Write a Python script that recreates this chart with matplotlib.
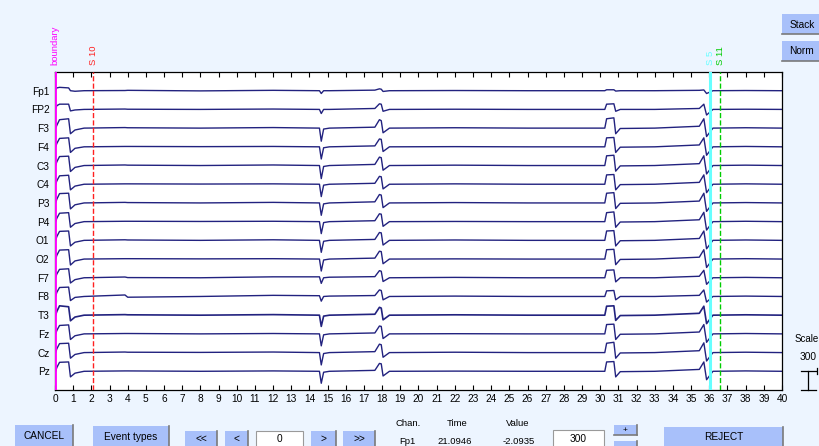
import numpy as np
import matplotlib
matplotlib.use('Agg')
import matplotlib.pyplot as plt
from matplotlib.patches import Rectangle
from matplotlib.lines import Line2D

plt.rcParams['font.family'] = ['Liberation Sans', 'DejaVu Sans']

# ---- data ----
chan_names = ['Fp1', 'FP2', 'F3', 'F4', 'C3', 'C4', 'P3', 'P4',
              'O1', 'O2', 'F7', 'F8', 'T3', 'Fz', 'Cz', 'Pz']

# key time points (s)
tk = [0, 0.1, 0.25, 0.75, 0.85, 1.1, 1.6, 3.85, 4.0, 8.0, 12.0,
      14.55, 14.65, 14.78, 15.1, 17.6, 17.85, 17.95, 18.05, 18.4,
      22.0, 26.0, 30.25, 30.35, 30.75, 30.85, 31.1, 33.0,
      35.45, 35.7, 35.85, 36.2, 38.0, 40.0]

# trace values at the key times (in channel spacing units)
fp1 = [0.0, 0.15, 0.18, 0.15, 0.0, -0.03, 0.0, 0.01, 0.02, -0.01, 0.02,
       0.0, -0.15, 0.0, 0.0, 0.03, 0.1, 0.08, -0.04, 0.0,
       0.01, 0.0, 0.0, 0.05, 0.05, -0.02, 0.0, 0.0,
       0.02, 0.04, -0.15, 0.0, 0.01, 0.0]
fp2 = [-0.05, 0.2, 0.28, 0.28, -0.08, -0.03, 0.0, 0.02, 0.01, 0.0, 0.02,
       0.0, -0.22, 0.0, 0.0, 0.05, 0.3, 0.28, -0.1, 0.0,
       0.01, 0.0, 0.0, 0.28, 0.3, -0.1, 0.0, 0.0,
       0.05, 0.28, -0.3, 0.0, 0.01, 0.0]
f3 = [-0.1, 0.15, 0.45, 0.5, -0.3, -0.1, 0.0, 0.03, 0.02, 0.0, 0.03,
      0.0, -0.7, -0.05, 0.0, 0.05, 0.45, 0.4, -0.25, 0.0,
      0.02, 0.0, 0.0, 0.5, 0.55, -0.3, -0.02, 0.0,
      0.1, 0.5, -0.45, 0.0, 0.02, 0.0]
f4 = [-0.1, 0.18, 0.45, 0.48, -0.3, -0.08, 0.0, 0.02, 0.02, 0.01, 0.02,
      0.0, -0.65, -0.05, 0.0, 0.05, 0.42, 0.4, -0.25, 0.0,
      0.01, 0.0, 0.0, 0.48, 0.5, -0.3, -0.02, 0.0,
      0.1, 0.48, -0.45, 0.0, 0.02, 0.0]
c3 = [-0.1, 0.2, 0.48, 0.5, -0.32, -0.1, 0.0, 0.03, 0.02, 0.0, 0.03,
      0.0, -0.7, -0.05, 0.0, 0.06, 0.45, 0.42, -0.25, 0.0,
      0.02, 0.0, 0.0, 0.52, 0.55, -0.3, -0.02, 0.0,
      0.1, 0.52, -0.45, 0.0, 0.02, 0.0]
c4 = [-0.1, 0.18, 0.45, 0.48, -0.3, -0.1, 0.0, 0.02, 0.02, 0.01, 0.02,
      0.0, -0.66, -0.05, 0.0, 0.05, 0.42, 0.4, -0.25, 0.0,
      0.02, 0.0, 0.0, 0.5, 0.52, -0.3, -0.02, 0.0,
      0.1, 0.5, -0.45, 0.0, 0.02, 0.0]
p3 = [-0.1, 0.2, 0.5, 0.52, -0.32, -0.1, 0.0, 0.03, 0.02, 0.0, 0.03,
      0.0, -0.66, -0.05, 0.0, 0.06, 0.45, 0.42, -0.25, 0.0,
      0.02, 0.0, 0.0, 0.52, 0.55, -0.3, -0.02, 0.0,
      0.1, 0.52, -0.45, 0.0, 0.02, 0.0]
p4 = [-0.1, 0.18, 0.45, 0.48, -0.3, -0.1, 0.0, 0.02, 0.02, 0.01, 0.02,
      0.0, -0.64, -0.05, 0.0, 0.05, 0.42, 0.4, -0.25, 0.0,
      0.01, 0.0, 0.0, 0.48, 0.52, -0.3, -0.02, 0.0,
      0.1, 0.5, -0.45, 0.0, 0.02, 0.0]
o1 = [-0.1, 0.2, 0.48, 0.5, -0.3, -0.1, 0.0, 0.03, 0.02, 0.0, 0.03,
      0.0, -0.64, -0.05, 0.0, 0.05, 0.42, 0.4, -0.25, 0.0,
      0.02, 0.0, 0.0, 0.5, 0.52, -0.3, -0.02, 0.0,
      0.1, 0.5, -0.45, 0.0, 0.02, 0.0]
o2 = [-0.1, 0.2, 0.48, 0.5, -0.32, -0.1, 0.0, 0.02, 0.02, 0.01, 0.02,
      0.0, -0.64, -0.05, 0.0, 0.05, 0.42, 0.4, -0.25, 0.0,
      0.01, 0.0, 0.0, 0.5, 0.52, -0.3, -0.02, 0.0,
      0.1, 0.5, -0.45, 0.0, 0.02, 0.0]
f7 = [-0.1, 0.2, 0.45, 0.48, -0.28, -0.1, 0.0, 0.04, 0.01, 0.0, 0.05,
      0.05, -0.3, 0.0, 0.03, 0.06, 0.38, 0.35, -0.2, 0.0,
      0.02, 0.0, 0.0, 0.4, 0.42, -0.22, 0.0, 0.0,
      0.08, 0.4, -0.35, 0.0, 0.02, 0.0]
f8 = [-0.1, 0.22, 0.48, 0.5, -0.22, -0.05, 0.0, 0.08, -0.04, 0.0, 0.06,
      0.04, -0.25, 0.0, 0.02, 0.05, 0.35, 0.32, -0.18, 0.0,
      0.02, 0.0, 0.0, 0.3, 0.32, -0.18, 0.0, 0.0,
      0.06, 0.35, -0.3, 0.0, 0.02, 0.0]
t3 = [-0.1, 0.2, 0.5, 0.45, -0.3, -0.1, 0.0, 0.03, 0.02, 0.0, 0.03,
      0.0, -0.6, -0.05, 0.0, 0.05, 0.42, 0.38, -0.25, 0.0,
      0.02, 0.0, 0.0, 0.48, 0.5, -0.28, -0.02, 0.0,
      0.1, 0.48, -0.45, 0.0, 0.02, 0.0]
fz = [-0.1, 0.18, 0.45, 0.48, -0.3, -0.1, 0.0, 0.02, 0.02, 0.0, 0.02,
      0.0, -0.64, -0.05, 0.0, 0.05, 0.42, 0.4, -0.25, 0.0,
      0.01, 0.0, 0.0, 0.5, 0.52, -0.3, -0.02, 0.0,
      0.1, 0.5, -0.45, 0.0, 0.02, 0.0]
cz = [-0.1, 0.2, 0.48, 0.5, -0.3, -0.1, 0.0, 0.03, 0.02, 0.01, 0.03,
      0.0, -0.66, -0.05, 0.0, 0.05, 0.45, 0.42, -0.25, 0.0,
      0.02, 0.0, 0.0, 0.5, 0.55, -0.3, -0.02, 0.0,
      0.1, 0.52, -0.45, 0.0, 0.02, 0.0]
pz = [-0.1, 0.2, 0.48, 0.5, -0.3, -0.1, 0.0, 0.02, 0.02, 0.0, 0.02,
      0.0, -0.64, -0.05, 0.0, 0.05, 0.42, 0.4, -0.25, 0.0,
      0.01, 0.0, 0.0, 0.5, 0.52, -0.3, -0.02, 0.0,
      0.1, 0.5, -0.45, 0.0, 0.02, 0.0]
chan_data = [fp1, fp2, f3, f4, c3, c4, p3, p4, o1, o2, f7, f8, t3, fz, cz, pz]

event_times = [0.0, 2.1, 36.05, 36.6]
event_labels = ['boundary', 'S 10', 'S 5', 'S 11']
event_colors = ['#ff00ff', '#ff2020', '#66ffff', '#00cc00']
event_styles = ['-', '--', '-', '--']
event_widths = [2.0, 1.0, 2.2, 1.0]

xticks = list(range(0, 41))

# ---- figure ----
W, H = 820, 446
bg = '#edf5ff'
btn = '#a8c0fa'
fig = plt.figure(figsize=(W / 100, H / 100), dpi=100, facecolor=bg)


def fx(x):
    return x / W


def fy(y):
    return 1 - y / H


ax = fig.add_axes([fx(55), fy(390), fx(727), 318 / H])
ax.set_facecolor('white')

nch = len(chan_names)
for i, vals in enumerate(chan_data):
    off = nch - i
    lw = 1.2 if chan_names[i] == 'T3' else 1.0
    ax.plot(tk, np.array(vals) + off, color='#22227f', lw=lw)

for t, lab, c, ls, lw in zip(event_times, event_labels, event_colors,
                             event_styles, event_widths):
    ax.axvline(t, color=c, ls=ls, lw=lw, zorder=5)
    ax.text(t, nch + 1.35, lab, color=c, rotation=90, fontsize=6.8,
            ha='center', va='bottom', clip_on=False)

ax.set_xlim(0, 40)
ax.set_ylim(0, nch + 1)
ax.set_xticks(xticks)
ax.set_xticklabels([str(v) for v in xticks], fontsize=7.3)
ax.set_yticks([nch - i for i in range(nch)])
ax.set_yticklabels(chan_names, fontsize=7.3)
ax.tick_params(axis='x', direction='in', length=3.5, width=0.8, top=True,
               pad=3)
ax.tick_params(axis='y', length=0, pad=4)
for s in ax.spines.values():
    s.set_linewidth(0.9)


def button(x0, y0, x1, y1, label, fs=7.3):
    fig.patches.append(Rectangle((fx(x0), fy(y1)), fx(x1 - x0), (y1 - y0) / H,
                                 transform=fig.transFigure, facecolor=btn,
                                 edgecolor='none'))
    fig.lines.append(Line2D([fx(x1), fx(x1)], [fy(y0), fy(y1)],
                            transform=fig.transFigure, color='#7a7a7a', lw=1.2))
    fig.lines.append(Line2D([fx(x0), fx(x1)], [fy(y1), fy(y1)],
                            transform=fig.transFigure, color='#7a7a7a', lw=1.2))
    fig.text(fx((x0 + x1) / 2), fy((y0 + min(y1, 446)) / 2 + 0.5), label,
             fontsize=fs, ha='center', va='center')


def textbox(x0, y0, x1, y1, label):
    fig.patches.append(Rectangle((fx(x0), fy(y1)), fx(x1 - x0), (y1 - y0) / H,
                                 transform=fig.transFigure, facecolor='white',
                                 edgecolor='#9a9a9a', lw=0.8))
    fig.text(fx((x0 + x1) / 2), fy((y0 + min(y1, 446)) / 2 + 0.5), label,
             fontsize=7.3, ha='center', va='center')


button(782, 14, 822, 34, 'Stack')
button(782, 41, 822, 61, 'Norm')

button(15, 425, 73, 452, 'CANCEL')
button(93, 426, 169, 452, 'Event types')
button(185, 431, 217, 452, '<<')
button(225, 431, 248, 452, '<')
textbox(256, 431, 303, 452, '0')
button(311, 431, 336, 452, '>')
button(343, 431, 375, 452, '>>')
textbox(553, 430, 604, 452, '300')
button(614, 425, 637, 435, '+', fs=6)
button(614, 441, 637, 452, '')
button(664, 427, 783, 452, 'REJECT')

for x, s in [(408, 'Chan.'), (457, 'Time'), (518, 'Value')]:
    fig.text(fx(x), fy(423), s, fontsize=6.8, ha='center', va='center')
for x, s in [(407, 'Fp1'), (455, '21.0946'), (519, '-2.0935')]:
    fig.text(fx(x), fy(442), s, fontsize=6.8, ha='center', va='center')

# scale bar
fig.text(fx(819), fy(339), 'Scale', fontsize=7.0, ha='right', va='center')
fig.text(fx(808), fy(357), '300', fontsize=7.3, ha='center', va='center')
for xs, ys in [([801, 816], [371, 371]), ([808, 808], [371, 390]),
               ([801, 816], [390, 390]), ([817, 817], [368, 374])]:
    fig.lines.append(Line2D([fx(v) for v in xs], [fy(v) for v in ys],
                            transform=fig.transFigure, color='black', lw=0.9))

fig.savefig('out.png', dpi=100, facecolor=bg)
